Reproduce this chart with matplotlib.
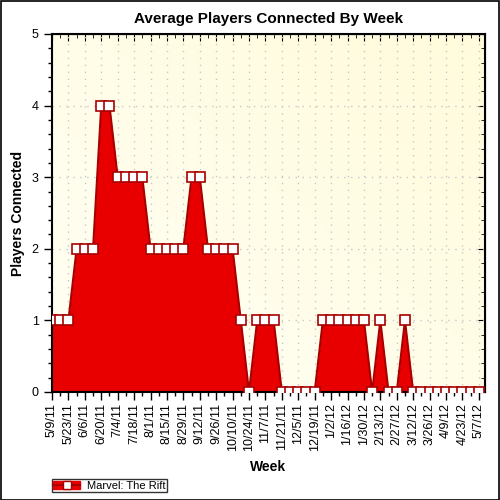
import matplotlib
matplotlib.use('Agg')
from matplotlib import pyplot as plt
from matplotlib.lines import Line2D
from matplotlib.patches import Rectangle
import numpy as np

plt.rcParams['font.family'] = ['Liberation Sans', 'DejaVu Sans']

# average players per week, 5/9/11 .. 5/7/12
players = [1, 1, 1, 2, 2, 2, 4, 4, 3, 3, 3, 3, 2, 2, 2, 2, 2, 3, 3, 2,
           2, 2, 2, 1, 0, 1, 1, 1, 0, 0, 0, 0, 0, 1, 1, 1, 1, 1, 1, 0,
           1, 0, 0, 1, 0, 0, 0, 0, 0, 0, 0, 0, 0]
week_labels = ['5/9/11', '5/23/11', '6/6/11', '6/20/11', '7/4/11', '7/18/11',
               '8/1/11', '8/15/11', '8/29/11', '9/12/11', '9/26/11', '10/10/11',
               '10/24/11', '11/7/11', '11/21/11', '12/5/11', '12/19/11', '1/2/12',
               '1/16/12', '1/30/12', '2/13/12', '2/27/12', '3/12/12', '3/26/12',
               '4/9/12', '4/23/12', '5/7/12']
series_name = 'Marvel: The Rift'

red = '#e80000'
dark = '#a80000'

fig = plt.figure(figsize=(5, 5), dpi=100)
fig.patches.append(Rectangle((0.001, 0.001), 0.997, 0.997, transform=fig.transFigure,
                             fill=False, edgecolor='black', lw=1.2))
ax = fig.add_axes([0.104, 0.216, 0.866, 0.716])

x = np.arange(len(players))
ax.set_xlim(0, 52.75)
ax.set_ylim(0, 5)

# background gradient
gx, gy = np.meshgrid(np.linspace(0, 1, 64), np.linspace(0, 1, 64))
ax.imshow((gx + gy) / 2, extent=[0, 1, 0, 1], transform=ax.transAxes, aspect='auto',
          origin='lower',
          cmap=matplotlib.colors.LinearSegmentedColormap.from_list('bg', ['#fffff4', '#fffbdc']),
          zorder=0)

ax.fill_between(x, players, 0, color=red, lw=0, zorder=2)
ax.plot(x, players, color=dark, lw=1.5, zorder=3,
        marker='s', ms=6.5, mfc='white', mec=dark, mew=1.2)

ax.set_xticks(x[::2])
ax.set_xticklabels(week_labels, rotation=90, fontsize=9)
ax.set_xticks(x, minor=True)
ax.set_yticks(range(6))
ax.set_yticks(np.arange(0, 5.01, 0.2), minor=True)
ax.tick_params(axis='both', which='major', length=6, width=1, labelsize=9, direction='out')
ax.tick_params(axis='x', which='major', pad=2)
ax.tick_params(axis='both', which='minor', length=3, width=1, direction='out')
ax.grid(True, which='major', color='#c8c8c8', ls=(0, (1, 4)), lw=1, zorder=1)

for s in ax.spines.values():
    s.set_linewidth(1.5)

top = ax.secondary_xaxis('top')
top.set_xticks(x[::2])
top.set_xticks(x, minor=True)
top.tick_params(which='major', direction='in', length=5, labeltop=False)
top.tick_params(which='minor', direction='in', length=3)
right = ax.secondary_yaxis('right')
right.set_yticks(range(6))
right.set_yticks(np.arange(0, 5.01, 0.2), minor=True)
right.tick_params(which='major', direction='in', length=5, labelright=False)
right.tick_params(which='minor', direction='in', length=3)

ax.set_title('Average Players Connected By Week', fontsize=11, fontweight='bold', pad=8)
ax.set_ylabel('Players Connected', fontsize=10, fontweight='bold', labelpad=5)
ax.set_xlabel('Week', fontsize=10, fontweight='bold', labelpad=6)

handle = (Rectangle((0, 0), 1, 1, color=red),
          Line2D([], [], color=dark, marker='s', ms=6, mfc='white', mec=dark, lw=1.5))
leg = fig.legend([handle], [series_name], loc='lower left', bbox_to_anchor=(0.092, 0.004),
                 fontsize=8, frameon=True, fancybox=False, edgecolor='black',
                 borderpad=0.15, handlelength=2.4, handletextpad=0.6)
leg.get_frame().set_linewidth(1)

fig.savefig('out.png', dpi=100)
